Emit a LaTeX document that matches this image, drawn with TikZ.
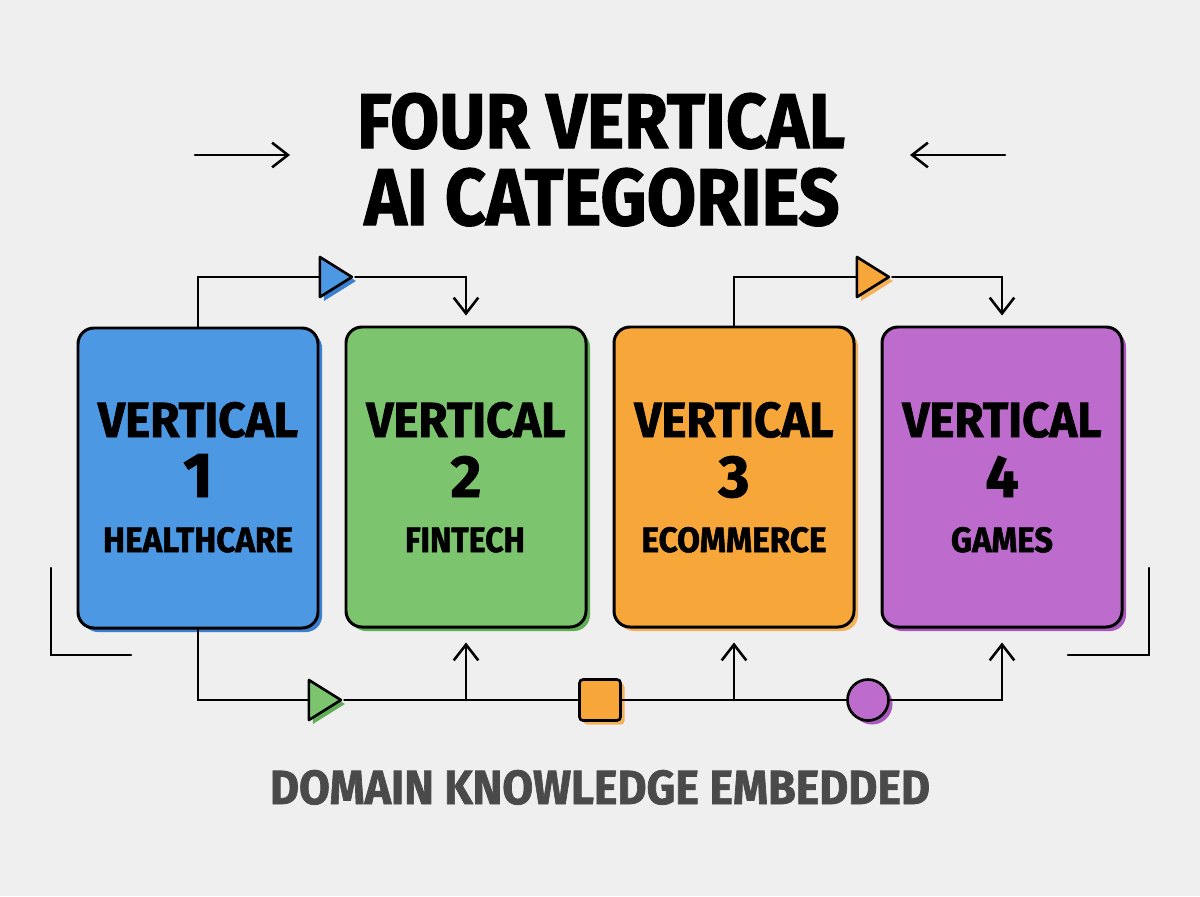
\documentclass[tikz,border=0pt]{standalone}
\usepackage{fontspec}
\usepackage{graphicx}
\newfontfamily\hfont{Fira Sans}[BoldFeatures={FakeBold=1.5}]
\usetikzlibrary{shapes.geometric,arrows.meta,shadows,calc}
\newlength\px
\setlength\px{0.02cm}
\newcommand\fitbox[3]{\resizebox{#1\px}{#2\px}{\hfont\bfseries #3}}
\newcommand\fitnum[2]{\resizebox{!}{#1\px}{\hfont\bfseries #2}}
\definecolor{bg}{HTML}{EFEFEF}
\definecolor{cblue}{HTML}{4C98E3}
\definecolor{cblueD}{HTML}{3A7FD0}
\definecolor{cgreen}{HTML}{7CC46E}
\definecolor{cgreenD}{HTML}{5FAE55}
\definecolor{corange}{HTML}{F7A73A}
\definecolor{corangeD}{HTML}{F3B25A}
\definecolor{cpurple}{HTML}{BD6BCC}
\definecolor{cpurpleD}{HTML}{A857BA}
\definecolor{ctext}{HTML}{4A4A4A}
\tikzset{
  vbox/.style={draw=black, line width=1.7pt, rounded corners=16\px,
    minimum width=240\px, minimum height=300\px, inner sep=0pt},
  shad/.style={general shadow={fill=#1, shadow xshift=4\px, shadow yshift=-4\px}},
  conn/.style={draw=black, line width=1.45pt, line cap=round, line join=miter},
  arr/.style={conn, -{Straight Barb[length=9pt,width=14pt,line width=1.45pt]}},
  tri/.style={isosceles triangle, isosceles triangle stretches, shape border rotate=0,
    minimum height=32\px, minimum width=40\px, inner sep=0pt, draw=black, line width=1.5pt,
    line join=round},
  lbl/.style={anchor=base, inner sep=0pt},
}
\begin{document}
\begin{tikzpicture}[x=0.02cm,y=-0.02cm]
\fill[bg] (0,0) rectangle (1200,896);
\useasboundingbox (0,0) rectangle (1200,896);

% title
\node[lbl] (t1) at (601,148) {\fitbox{488}{55}{FOUR VERTICAL}};
\node[lbl] (t2) at (602,225) {\fitbox{475}{57}{AI CATEGORIES}};
\coordinate (la) at (195,155);
\coordinate (lb) at (290,155);
\coordinate (ra) at (1005,155);
\coordinate (rb) at (910,155);
\draw[arr] (la) -- (lb);
\draw[arr] (ra) -- (rb);

% boxes
\node[vbox, shad=cblueD, fill=cblue] (b1) at (198,478) {};
\node[vbox, shad=cgreenD, fill=cgreen] (b2) at (466,477) {};
\node[vbox, shad=corangeD, fill=corange] (b3) at (734,477) {};
\node[vbox, shad=cpurpleD, fill=cpurple] (b4) at (1002,477) {};

% box texts
\node[lbl] (v1) at (198,437) {\fitbox{200}{35}{VERTICAL}};
\node[lbl] (n1) at (198,497) {\fitnum{43}{1}};
\node[lbl] (s1) at (198,552) {\fitbox{190}{25}{HEALTHCARE}};
\node[lbl] (v2) at (466,437) {\fitbox{199}{35}{VERTICAL}};
\node[lbl] (n2) at (466,497) {\fitnum{41}{2}};
\node[lbl] (s2) at (465,552) {\fitbox{120}{25}{FINTECH}};
\node[lbl] (v3) at (734,437) {\fitbox{199}{35}{VERTICAL}};
\node[lbl] (n3) at (734,497) {\fitnum{41}{3}};
\node[lbl] (s3) at (734,552) {\fitbox{185}{25}{ECOMMERCE}};
\node[lbl] (v4) at (1002,437) {\fitbox{199}{35}{VERTICAL}};
\node[lbl] (n4) at (1002,497) {\fitnum{41}{4}};
\node[lbl] (s4) at (1002,552) {\fitbox{102}{25}{GAMES}};

% top connectors
\node[tri, shad=cblueD, fill=cblue] (tb) at (331,277) {};
\node[tri, shad=corangeD, fill=corange] (to) at (868,277) {};
\draw[conn] (b1.north) |- (tb.west);
\draw[arr] (tb.apex) -| ([yshift=10\px]b2.north);
\draw[conn] (b3.north) |- (to.west);
\draw[arr] (to.apex) -| ([yshift=10\px]b4.north);

% bottom connectors
\node[tri, shad=cgreenD, fill=cgreen] (gt) at (320,700) {};
\node[draw=black, line width=1.5pt, fill=corange, shad=corangeD, minimum size=41\px,
  inner sep=0pt, rounded corners=2pt] (sq) at (600,700) {};
\node[circle, draw=black, line width=1.5pt, fill=cpurple, shad=cpurpleD, minimum size=41\px,
  inner sep=0pt] (ci) at (868,700) {};
\draw[conn] (b1.south) |- (gt.west);
\draw[conn] (gt.apex) -- (sq.west);
\draw[conn] (sq.east) -- (ci.west);
\draw[arr] (ci.east) -| ([yshift=-14\px]b4.south);
\draw[arr] (b2.south |- gt.apex) -- ([yshift=-14\px]b2.south);
\draw[arr] (b3.south |- gt.apex) -- ([yshift=-14\px]b3.south);

% side brackets
\coordinate (l1) at (51,568);
\coordinate (l2) at (51,655);
\coordinate (l3) at (131,655);
\coordinate (r1) at (1149,568);
\coordinate (r2) at (1149,655);
\coordinate (r3) at (1068,655);
\draw[conn] (l1) -- (l2) -- (l3);
\draw[conn] (r1) -- (r2) -- (r3);

% bottom text
\node[lbl] (dk) at (600,804) {\color{ctext}\fitbox{660}{34}{DOMAIN KNOWLEDGE EMBEDDED}};
\end{tikzpicture}
\end{document}
